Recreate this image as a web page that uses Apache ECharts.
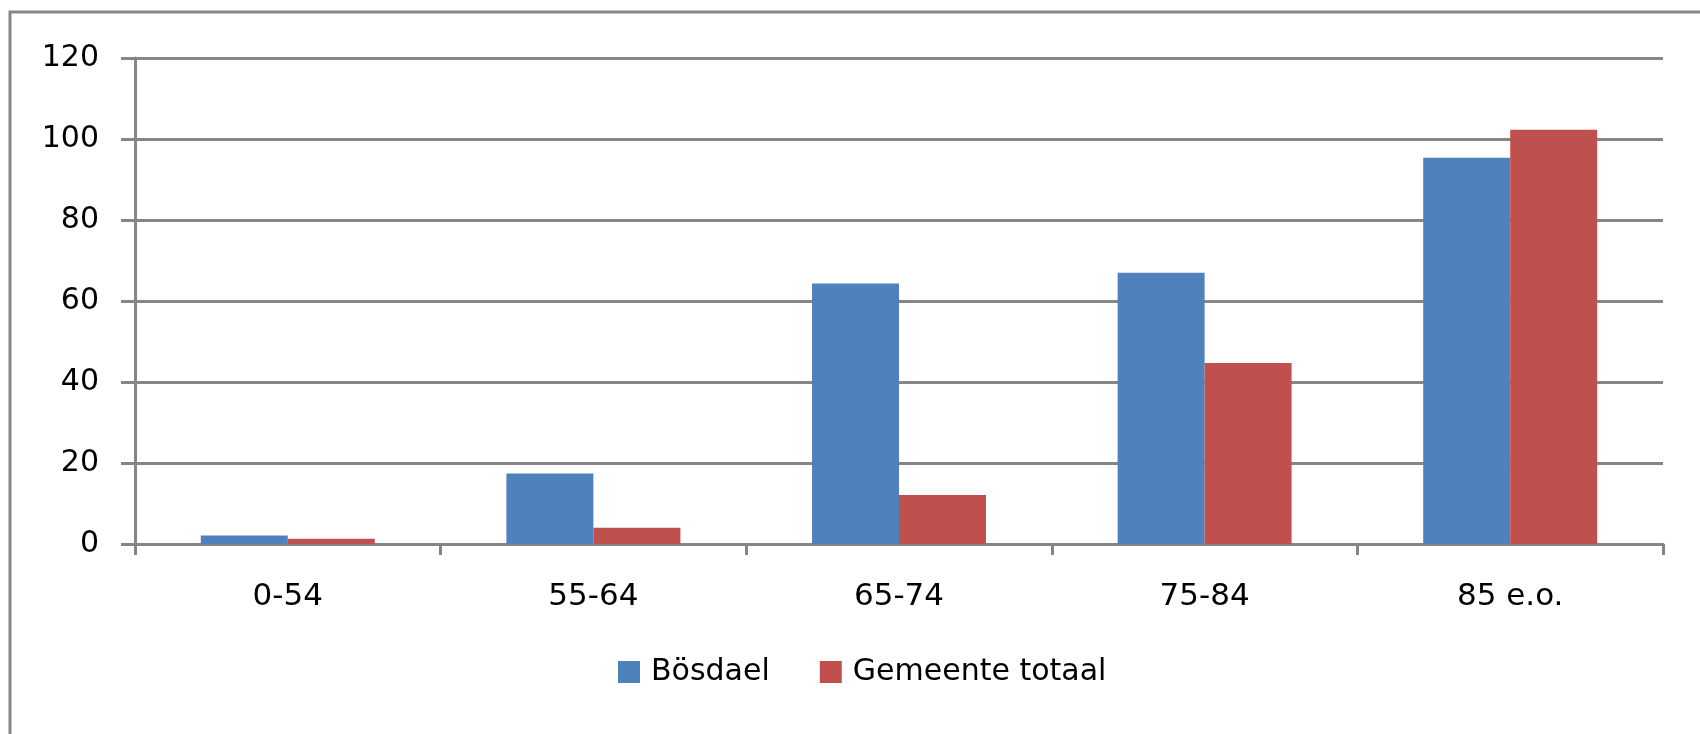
<!DOCTYPE html>
<html>
<head>
<meta charset="utf-8">
<script src="https://cdn.jsdelivr.net/npm/echarts@6/dist/echarts.min.js"></script>
<style>html,body{margin:0;padding:0;background:#fff}#c{width:1700px;height:734px}</style>
</head>
<body>
<div id="c"></div>
<script>
const categories = ['0-54', '55-64', '65-74', '75-84', '85 e.o.'];
const seriesNames = ['Bösdael', 'Gemeente totaal'];
const bosdael = [2.1, 17.4, 64.3, 67.0, 95.4];
const gemeente = [1.3, 4.0, 12.1, 44.7, 102.3];
const yTicks = { min: 0, max: 120, interval: 20 };

const chart = echarts.init(document.getElementById('c'));
const gray = '#868686';
const font = 'DejaVu Sans';
chart.setOption({
  animation: false,
  backgroundColor: '#fff',
  graphic: [{
    type: 'rect',
    shape: { x: 10, y: 12, width: 1800, height: 900 },
    style: { fill: 'none', stroke: gray, lineWidth: 3 },
    silent: true
  }],
  grid: { left: 135, right: 37, top: 58, bottom: 190, containLabel: false },
  legend: {
    data: seriesNames,
    top: 652,
    left: 613,
    itemWidth: 22,
    itemHeight: 22,
    itemGap: 50,
    icon: 'rect',
    textStyle: { fontFamily: font, fontSize: 30, color: '#000', padding: [3, 0, 0, 6] }
  },
  xAxis: {
    type: 'category',
    data: categories,
    axisLine: { show: true, lineStyle: { color: gray, width: 3 } },
    axisTick: { show: true, length: 11, lineStyle: { color: gray, width: 3 } },
    axisLabel: { fontFamily: font, fontSize: 31, color: '#000', margin: 37 },
    splitLine: { show: false }
  },
  yAxis: {
    type: 'value',
    min: yTicks.min, max: yTicks.max, interval: yTicks.interval,
    axisLine: { show: true, lineStyle: { color: gray, width: 3 } },
    axisTick: { show: true, length: 14, lineStyle: { color: gray, width: 3 } },
    axisLabel: { fontFamily: font, fontSize: 30, color: '#000', margin: 36 },
    splitLine: { show: true, lineStyle: { color: gray, width: 3 } }
  },
  series: [
    { name: seriesNames[0], type: 'bar', data: bosdael, barWidth: 87, barGap: '0%', itemStyle: { color: '#4F81BD' } },
    { name: seriesNames[1], type: 'bar', data: gemeente, barWidth: 87, barGap: '0%', itemStyle: { color: '#C0504D' } }
  ]
});
</script>
</body>
</html>
